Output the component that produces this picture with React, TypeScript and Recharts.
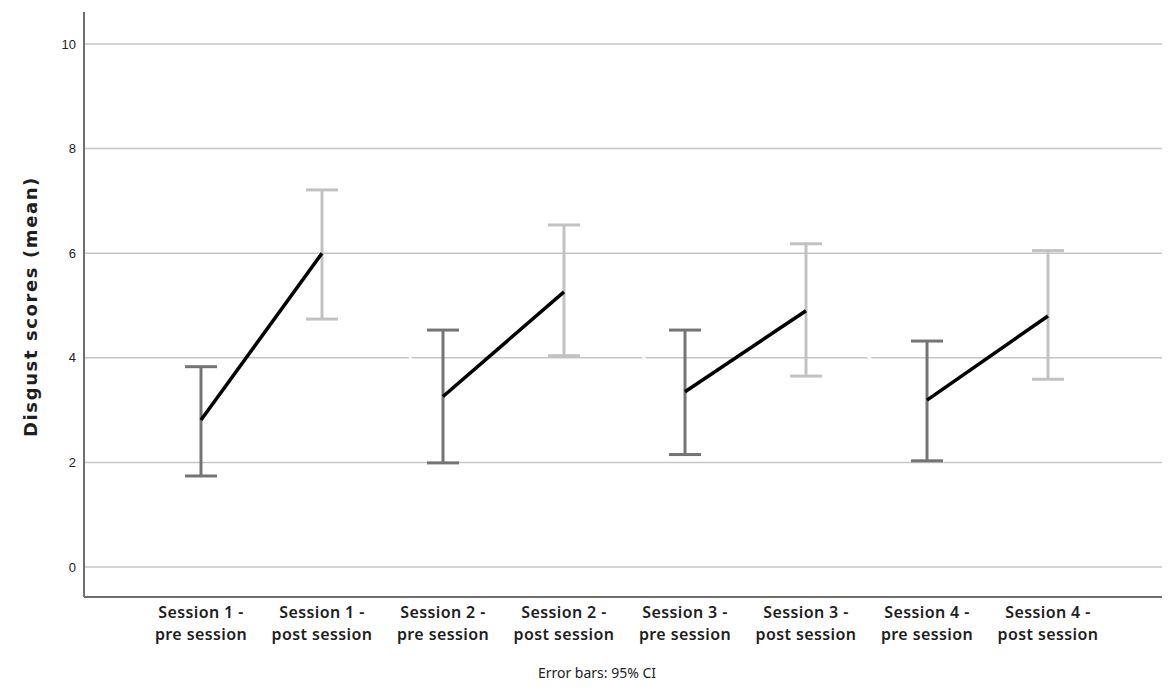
import React from 'react';
import {
  ComposedChart,
  Line,
  XAxis,
  YAxis,
  CartesianGrid,
  ErrorBar
} from 'recharts';

// values
const categories = [
  'Session 1 -|pre session',
  'Session 1 -|post session',
  'Session 2 -|pre session',
  'Session 2 -|post session',
  'Session 3 -|pre session',
  'Session 3 -|post session',
  'Session 4 -|pre session',
  'Session 4 -|post session'
];
const sessions = [1, 1, 2, 2, 3, 3, 4, 4];
const phases = ['pre', 'post', 'pre', 'post', 'pre', 'post', 'pre', 'post'];
const means = [2.81, 6.0, 3.26, 5.26, 3.35, 4.9, 3.19, 4.8];
const ciLow = [1.74, 4.74, 1.99, 4.04, 2.15, 3.65, 2.03, 3.59];
const ciHigh = [3.83, 7.21, 4.53, 6.54, 4.53, 6.18, 4.32, 6.05];
const yTicks = [0, 2, 4, 6, 8, 10];

const data = categories.map((name, i) => {
  const err = [means[i] - ciLow[i], ciHigh[i] - means[i]];
  return {
    name,
    mean: means[i],
    preErr: phases[i] === 'pre' ? err : null,
    postErr: phases[i] === 'post' ? err : null,
    s1: sessions[i] === 1 ? means[i] : null,
    s2: sessions[i] === 2 ? means[i] : null,
    s3: sessions[i] === 3 ? means[i] : null,
    s4: sessions[i] === 4 ? means[i] : null
  };
});

const CategoryTick = (props: any) => {
  const { x, y, payload } = props;
  const [l1, l2] = String(payload.value).split('|');
  const style = {
    fill: '#1e1e1e',
    fontFamily: "'Noto Sans', sans-serif",
    fontWeight: 600,
    fontSize: 16,
    letterSpacing: 0.4
  };
  return (
    <g>
      <text x={x} y={y + 13} textAnchor="middle" style={style}>{l1}</text>
      <text x={x} y={y + 35} textAnchor="middle" style={style}>{l2}</text>
    </g>
  );
};

const YTitle = (props: any) => {
  const { viewBox } = props;
  const cx = 22;
  const cy = viewBox.y + viewBox.height / 2 + 2;
  return (
    <text
      x={cx}
      y={cy}
      transform={`rotate(-90 ${cx} ${cy})`}
      textAnchor="middle"
      dominantBaseline="central"
      fill="#1e1e1e"
      fontFamily="'DejaVu Sans', sans-serif"
      fontWeight="bold"
      fontSize={18}
      letterSpacing={1.6}
    >
      Disgust scores (mean)
    </text>
  );
};

const App: React.FC = () => {
  return (
    <div style={{ position: 'relative', width: 1160, height: 680, background: '#fff' }}>
      <ComposedChart
        width={1160}
        height={680}
        data={data}
        margin={{ top: 4, right: 3, bottom: 11, left: 26 }}
      >
        <CartesianGrid
          vertical={false}
          horizontalValues={yTicks}
          stroke="#c6c6c6"
          strokeWidth={1.5}
        />
        <XAxis
          dataKey="name"
          tick={<CategoryTick />}
          tickLine={false}
          axisLine={{ stroke: '#6e6e6e', strokeWidth: 2 }}
          padding={{ left: 117, right: 117 }}
          interval={0}
          height={80}
        />
        <YAxis
          domain={[-0.574, 10.612]}
          ticks={yTicks}
          tickLine={false}
          axisLine={{ stroke: '#6e6e6e', strokeWidth: 2 }}
          tick={{ fontSize: 13, fill: '#222', fontFamily: "'Liberation Sans', Arial, sans-serif" }}
          width={50}
          allowDataOverflow
          label={<YTitle />}
        />
        <Line
          dataKey="mean"
          stroke="#ffffff"
          strokeWidth={2}
          dot={false}
          activeDot={false}
          isAnimationActive={false}
        />
        <Line
          dataKey="mean"
          stroke="none"
          dot={false}
          activeDot={false}
          isAnimationActive={false}
        >
          <ErrorBar dataKey="preErr" stroke="#747474" strokeWidth={3} width={16} isAnimationActive={false} />
        </Line>
        <Line
          dataKey="mean"
          stroke="none"
          dot={false}
          activeDot={false}
          isAnimationActive={false}
        >
          <ErrorBar dataKey="postErr" stroke="#c2c2c2" strokeWidth={3} width={16} isAnimationActive={false} />
        </Line>
        {['s1', 's2', 's3', 's4'].map(k => (
          <Line
            key={k}
            dataKey={k}
            stroke="#000"
            strokeWidth={3.5}
            dot={false}
            activeDot={false}
            connectNulls={false}
            isAnimationActive={false}
          />
        ))}
      </ComposedChart>
      <div
        style={{
          position: 'absolute',
          left: 489,
          top: 657,
          width: 200,
          textAlign: 'center',
          fontFamily: "'Noto Sans', sans-serif",
          fontSize: 14,
          lineHeight: '16px',
          color: '#222'
        }}
      >
        Error bars: 95% CI
      </div>
    </div>
  );
};

export default App;
